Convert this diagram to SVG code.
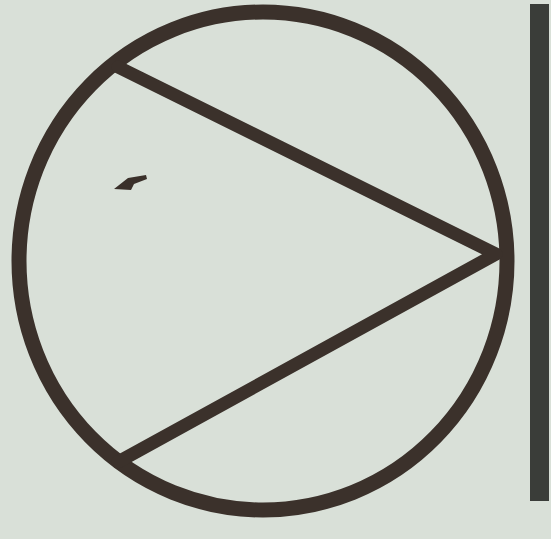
<svg xmlns="http://www.w3.org/2000/svg" width="551" height="539" viewBox="0 0 551 539">
<style>
.ln{fill:none;stroke:#3b312b;stroke-linecap:round;stroke-linejoin:round}
</style>
<rect width="551" height="539" fill="#d9e0d8"/>
<g id="pump">
<ellipse class="ln" cx="263" cy="261" rx="244" ry="249" stroke-width="15"/>
<polyline class="ln" points="118,67 496,254 118,462" stroke-width="13"/>
</g>
<g id="bar">
<rect x="530" y="4" width="19" height="497" fill="#3a3d39"/>
</g>
<g id="mark">
<path d="M114,189 L128,178 L146,175 L147,179 L134,184 L131,190 Z" fill="#3a302a"/>
</g>
</svg>
